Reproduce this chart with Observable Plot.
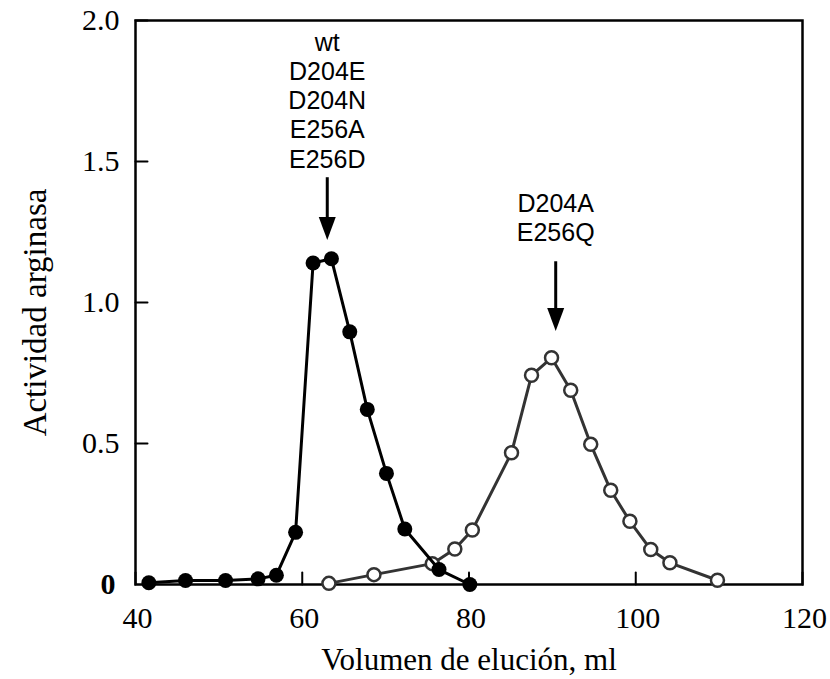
<!DOCTYPE html>
<html><head><meta charset="utf-8">
<script src="https://cdn.jsdelivr.net/npm/d3@7"></script>
<script src="https://cdn.jsdelivr.net/npm/@observablehq/plot@0.6"></script>
<style>html,body{margin:0;padding:0;background:#fff}#chart svg{display:block}</style>
</head><body><div id="chart"></div>
<script>
// Filled circles (wt and similar mutants)
const filledVol = [41.6, 46.0, 50.8, 54.7, 56.9, 59.2, 61.3, 63.5, 65.7, 67.8, 70.1, 72.3, 76.4, 80.1];
const filledAct = [0.006, 0.014, 0.014, 0.020, 0.033, 0.185, 1.14, 1.155, 0.896, 0.621, 0.394, 0.197, 0.053, 0.0];
// Open circles (D204A, E256Q)
const openVol = [63.2, 68.6, 75.6, 78.3, 80.4, 85.1, 87.5, 89.9, 92.2, 94.6, 97.0, 99.3, 101.8, 104.1, 109.8];
const openAct = [0.004, 0.035, 0.074, 0.126, 0.193, 0.467, 0.742, 0.804, 0.689, 0.497, 0.334, 0.224, 0.124, 0.077, 0.015];

const xTicks = [40, 60, 80, 100, 120];
const xTickLabels = ["40", "60", "80", "100", "120"];
const yTicks = [0.5, 1.0, 1.5, 2.0];
const yTickLabels = ["0.5", "1.0", "1.5", "2.0"];
const yZeroLabel = ["0"];

const xTitle = "Volumen de elución, ml";
const yTitle = "Actividad arginasa";

// Annotations (data coordinates)
const annText = ["wt\nD204E\nD204N\nE256A\nE256D", "D204A\nE256Q"];
const annX = [63.0, 90.4];
const annY = [1.719, 1.302];
const arrowTop = [1.407, 1.109];
const arrowTip = [1.222, 0.899];

const filled = filledVol.map((v, i) => ({v, a: filledAct[i]}));
const open = openVol.map((v, i) => ({v, a: openAct[i]}));
const ann = annText.map((t, i) => ({t, x: annX[i], y: annY[i], top: arrowTop[i], tip: arrowTip[i]}));

const head = {draw(ctx) { const w = 8.5, h = 23; ctx.moveTo(-w, -h); ctx.lineTo(w, -h); ctx.lineTo(0, 0); ctx.closePath(); }};
const tickShape = {draw(ctx, l) { ctx.moveTo(0, 0); ctx.lineTo(0, -l); }};

const serif = "'Liberation Serif', 'Times New Roman', serif";
const sans = "'Liberation Sans', Arial, sans-serif";

const chart = Plot.plot({
  width: 830,
  height: 679,
  marginLeft: 135,
  marginRight: 28,
  marginTop: 20,
  marginBottom: 95,
  x: {domain: [40, 120], axis: null},
  y: {domain: [0, 2], axis: null},
  style: {background: "white", color: "black"},
  marks: [
    // inward ticks
    Plot.vector(xTicks, {x: d => d, y: 0, length: 12, rotate: 0, anchor: "start", shape: tickShape, stroke: "black", strokeWidth: 2}),
    Plot.vector(yTicks, {x: 40, y: d => d, length: 12, rotate: 90, anchor: "start", shape: tickShape, stroke: "black", strokeWidth: 2}),
    Plot.frame({stroke: "black", strokeWidth: 2.5}),
    // tick labels
    Plot.text(xTicks, {x: d => d, frameAnchor: "bottom", text: (d, i) => xTickLabels[i], textAnchor: "middle", lineAnchor: "middle", dx: 2, dy: 34, fontSize: 30, fontFamily: serif, fill: "black"}),
    Plot.text(yTicks, {y: d => d, frameAnchor: "left", text: (d, i) => yTickLabels[i], textAnchor: "end", lineAnchor: "middle", dx: -16, fontSize: 30, fontFamily: serif, fill: "black"}),
    Plot.text(yZeroLabel, {y: 0, frameAnchor: "left", text: d => d, textAnchor: "end", lineAnchor: "middle", dx: -20, fontSize: 30, fontWeight: "bold", fontFamily: serif, fill: "black"}),
    // axis titles
    Plot.text([xTitle], {frameAnchor: "bottom", text: d => d, textAnchor: "middle", lineAnchor: "middle", dy: 76, fontSize: 31, fontFamily: serif, fill: "black"}),
    Plot.text([yTitle], {frameAnchor: "left", text: d => d, textAnchor: "middle", lineAnchor: "middle", dx: -100, dy: 10, rotate: -90, fontSize: 33, fontFamily: serif, fill: "black"}),
    // open series
    Plot.line(open, {x: "v", y: "a", stroke: "#333", strokeWidth: 3}),
    Plot.dot(open, {x: "v", y: "a", r: 6.5, fill: "white", stroke: "#333", strokeWidth: 2.5}),
    // filled series
    Plot.line(filled, {x: "v", y: "a", stroke: "black", strokeWidth: 3}),
    Plot.dot(filled, {x: "v", y: "a", r: 7.5, fill: "black", stroke: "none"}),
    // annotations
    Plot.text(ann, {x: "x", y: "y", text: "t", lineHeight: 1.17, fontSize: 25, fontFamily: sans, fill: "black"}),
    Plot.ruleX(ann, {x: "x", y1: "top", y2: "tip", stroke: "black", strokeWidth: 3, dy: -10}),
    Plot.dot(ann, {x: "x", y: "tip", symbol: head, fill: "black", stroke: "none"})
  ]
});
document.getElementById("chart").appendChild(chart);
</script>
</body></html>
